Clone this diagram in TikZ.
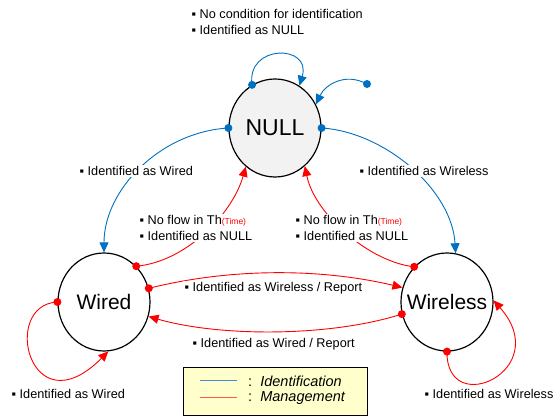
\documentclass[tikz,border=0pt]{standalone}
\usepackage{fontspec}
\setmainfont{Liberation Sans}
\usetikzlibrary{shapes.geometric,arrows.meta}
\definecolor{idblue}{RGB}{0,112,192}
\definecolor{nullfill}{RGB}{242,242,242}
\definecolor{legendfill}{RGB}{255,255,204}
\definecolor{legblue}{RGB}{70,140,210}
\definecolor{legred}{RGB}{255,90,70}
\newcommand\itm{\char"25AA\ }
\newcommand\tm{{\color{red}\fontsize{8.5}{10}\selectfont(Time)}}
\tikzset{
  state/.style={ellipse, draw=black, line width=1.2pt, minimum width=92pt,
    minimum height=98pt, inner sep=0pt},
  stname/.style={inner sep=0pt, font=\fontsize{21}{24}\selectfont},
  ident/.style={draw=idblue, line width=0.9pt, -{Triangle[length=10pt,width=9pt]}},
  manage/.style={draw=red, line width=0.9pt, -{Triangle[length=10pt,width=9pt]}},
  lbl/.style={font=\fontsize{12.7}{16.5}\selectfont, align=left, inner sep=1.5pt,
    fill=white, anchor=west},
  legtxt/.style={anchor=west, inner sep=0pt, font=\fontsize{14.5}{16}\selectfont},
}
\begin{document}
\begin{tikzpicture}[x=1pt,y=-1pt]
\useasboundingbox (0,0) rectangle (558,417);

% states
\node[state, fill=nullfill] (null) at (275,128) {};
\node[state, fill=white] (wired) at (104,302) {};
\node[state, fill=white] (wless) at (447,302) {};
\node[stname, font=\fontsize{23}{26}\selectfont] (nullt) at (null) {NULL};
\node[stname] (wiredt) at (wired) {Wired};
\node[stname] (wlesst) at (wless) {Wireless};
\coordinate (start) at (367,84);

% identification transitions
\draw[ident] (null.118) .. controls (246,44) and (312,44) .. (null.60);
\draw[ident] (start) .. controls (345,72) and (325,85) .. (null.30);
\draw[ident] (null.180) .. controls (160,132) and (104,190) .. (wired.90);
\draw[ident] (null.0) .. controls (385,132) and (452,190) .. (wless.80);

% management transitions
\draw[manage] (wired.48) .. controls (185,262) and (232,215) .. (null.233);
\draw[manage] (wless.133) .. controls (370,262) and (315,215) .. (null.308);
\draw[manage] (wired.17) .. controls (230,268) and (320,268) .. (wless.162);
\draw[manage] (wless.195) .. controls (330,337) and (220,337) .. (wired.-18);
\draw[manage] (wired.180) .. controls (0,305) and (30,430) .. (wired.-85);
\draw[manage] (wless.270) .. controls (446,420) and (555,370) .. (wless.2);

% transition labels
\node[lbl] (ltop) at (190,22) {\itm No condition for identification\\\itm Identified as NULL};
\node[lbl] (lwd) at (78,171) {\itm Identified as Wired};
\node[lbl] (lwl) at (358,171) {\itm Identified as Wireless};
\node[lbl] (lnl) at (138,228) {\itm No flow in Th\tm\\\itm Identified as NULL};
\node[lbl] (lnr) at (294,228) {\itm No flow in Th\tm\\\itm Identified as NULL};
\node[lbl] (lww) at (183,288) {\itm Identified as Wireless / Report};
\node[lbl] (lwr) at (191,344) {\itm Identified as Wired / Report};
\node[lbl] (lsw) at (10,394) {\itm Identified as Wired};
\node[lbl] (lsl) at (423,394) {\itm Identified as Wireless};

% start points
\fill[idblue] (null.118) circle (4pt);
\fill[idblue] (start) circle (4pt);
\fill[idblue] (null.180) circle (4pt);
\fill[idblue] (null.0) circle (4pt);
\fill[red] (wired.48) circle (4pt);
\fill[red] (wless.133) circle (4pt);
\fill[red] (wired.17) circle (4pt);
\fill[red] (wless.195) circle (4pt);
\fill[red] (wired.180) circle (4pt);
\fill[red] (wless.270) circle (4pt);

% legend
\node[draw=black, line width=0.8pt, fill=legendfill, minimum width=184pt,
  minimum height=48pt, anchor=north west, inner sep=0pt] (legend) at (183,367) {};
\draw[legblue, line width=1pt] (200,381) -- (237,381);
\draw[legred, line width=1pt] (200,398) -- (237,398);
\node[legtxt] (lid) at (248,381) {:\ \ \textit{Identification}};
\node[legtxt] (lmg) at (248,398) {:\ \ \textit{Management}};
\end{tikzpicture}
\end{document}
